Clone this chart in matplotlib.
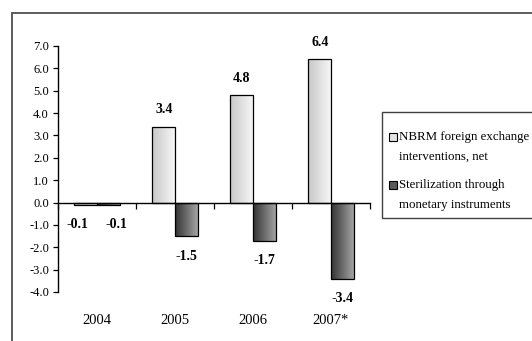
import numpy as np
import matplotlib
matplotlib.use("Agg")
import matplotlib.pyplot as plt
from matplotlib.patches import Rectangle
from matplotlib.colors import LinearSegmentedColormap
import matplotlib.transforms as mtransforms

plt.rcParams['font.family'] = ['Liberation Serif', 'DejaVu Serif']

years = ["2004", "2005", "2006", "2007*"]
interventions = [-0.1, 3.4, 4.8, 6.4]
sterilization = [-0.1, -1.5, -1.7, -3.4]
series_names = [["NBRM foreign exchange", "interventions, net"],
                ["Sterilization through", "monetary instruments"]]
yticks = [-4.0, -3.0, -2.0, -1.0, 0.0, 1.0, 2.0, 3.0, 4.0, 5.0, 6.0, 7.0]

W, H = 532, 341
fig = plt.figure(figsize=(W / 100, H / 100), dpi=100)
fig.patch.set_facecolor("white")

def px(xp, yp):
    """pixel position (from top-left) -> figure fraction"""
    return xp / W, 1 - yp / H

# outer chart frame (runs off the right and bottom edges)
frame = Rectangle((12 / W, -0.05), 1.2, 1 - 13 / H + 0.05, transform=fig.transFigure,
                  fill=False, edgecolor="#505050", linewidth=1.3)
fig.add_artist(frame)

ax = fig.add_axes([58 / W, 1 - 292 / H, (370 - 58) / W, 246 / H])
ax.set_facecolor("none")

x = np.arange(len(years))
bw = 0.29

light_cmap = LinearSegmentedColormap.from_list("light", ["#c8c8c8", "#f6f6f6"])
dark_cmap = LinearSegmentedColormap.from_list("dark", ["#333333", "#a4a4a4"])
grad = np.linspace(0, 1, 64).reshape(1, -1)

def gradient_bars(xs, vals, cmap):
    bars = ax.bar(xs, vals, width=bw, facecolor="none", edgecolor="black",
                  linewidth=0.9, zorder=3)
    for b in bars:
        x0, y0 = b.get_x(), b.get_y()
        w, h = b.get_width(), b.get_height()
        im = ax.imshow(grad, cmap=cmap, aspect="auto",
                       extent=[x0, x0 + w, min(y0, y0 + h), max(y0, y0 + h)],
                       zorder=2, interpolation="bilinear")
        im.set_clip_path(b)
    return bars

b1 = gradient_bars(x - bw / 2, interventions, light_cmap)
b2 = gradient_bars(x + bw / 2, sterilization, dark_cmap)

ax.set_xlim(-0.5, len(years) - 0.5)
ax.set_ylim(-4.0, 7.0)

# value labels; labels of very short bars are spread apart to avoid crowding
for bars, vals, side in ((b1, interventions, -1), (b2, sterilization, 1)):
    for b, v in zip(bars, vals):
        cx = b.get_x() + b.get_width() / 2
        dy = 17 if v > 0 else -20
        dx = 8 * side if abs(v) < 0.5 else 0
        ax.annotate(f"{v:.1f}", (cx, v), xytext=(dx, dy), textcoords="offset pixels",
                    ha="center", va="center", fontsize=10, fontweight="bold",
                    color="black")

# axes styling
for s in ("top", "right"):
    ax.spines[s].set_visible(False)
ax.spines["bottom"].set_position(("data", 0))
ax.spines["bottom"].set_linewidth(1.0)
ax.spines["left"].set_linewidth(1.0)

ax.set_yticks(yticks)
ax.set_yticklabels([f"{t:.1f}" for t in yticks], fontsize=9)
ax.tick_params(axis="y", direction="out", length=3.5, width=0.9, pad=3)

ax.set_xticks(np.arange(len(years) + 1) - 0.5)
ax.set_xticklabels([])
ax.tick_params(axis="x", direction="out", length=4.5, width=0.9)

# category labels below the plot area
trans = mtransforms.blended_transform_factory(ax.transData, fig.transFigure)
for xi, lab in zip(x, years):
    ax.text(xi, 1 - 321 / H, lab, transform=trans, ha="center", va="center",
            fontsize=10.5, color="black")

# legend box, drawn by hand so that it runs off the right edge
bx, by = px(382, 218)
fig.add_artist(Rectangle((bx, by), 0.5, (218 - 112) / H, transform=fig.transFigure,
                         facecolor="white", edgecolor="#404040", linewidth=1.0))
swatches = ["#e4e4e4", "#5a5a5a"]
line_y = [(137, 157), (185, 205)]
for color, lines, ys in zip(swatches, series_names, line_y):
    sx, sy = px(389, ys[0] + 4)
    fig.add_artist(Rectangle((sx, sy), 8 / W, 8 / H, transform=fig.transFigure,
                             facecolor=color, edgecolor="black", linewidth=0.8))
    for txt, yy in zip(lines, ys):
        tx, ty = px(399, yy)
        fig.text(tx, ty, txt, ha="left", va="center", fontsize=9.3, color="black")

fig.savefig("out.png", dpi=100)
